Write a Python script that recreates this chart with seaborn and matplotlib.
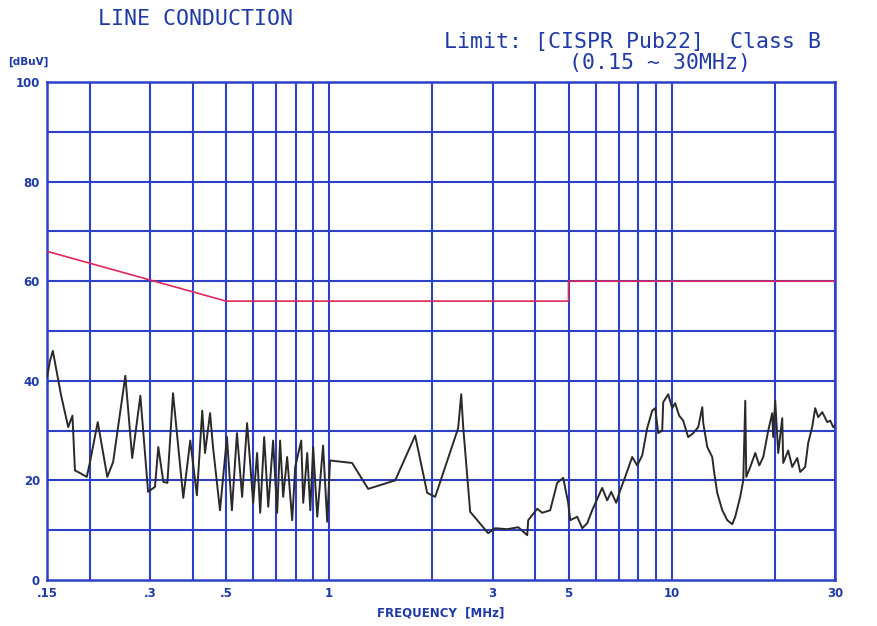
import numpy as np
import pandas as pd
import seaborn as sns
import matplotlib.pyplot as plt

freq_mhz = [0.150, 0.153, 0.156, 0.165, 0.173, 0.178, 0.181, 0.187, 0.196, 0.200,
            0.211, 0.225, 0.234, 0.254, 0.266, 0.281, 0.296, 0.310, 0.317, 0.328,
            0.337, 0.350, 0.375, 0.393, 0.411, 0.426, 0.434, 0.449, 0.458, 0.480,
            0.503, 0.520, 0.538, 0.557, 0.576, 0.600, 0.616, 0.629, 0.646, 0.664,
            0.686, 0.705, 0.719, 0.734, 0.754, 0.780, 0.796, 0.829, 0.840, 0.863,
            0.881, 0.898, 0.923, 0.960, 0.987, 1.006, 1.167, 1.300, 1.559, 1.783,
            1.933, 2.040, 2.381, 2.430, 2.463, 2.581, 2.913, 3.053, 3.311, 3.565,
            3.788, 3.813, 4.051, 4.190, 4.420, 4.633, 4.825, 4.989, 5.057, 5.301,
            5.483, 5.670, 5.863, 6.270, 6.484, 6.662, 6.890, 7.077, 7.319, 7.672,
            7.935, 8.206, 8.487, 8.777, 8.956, 9.139, 9.387, 9.452, 9.775, 10.04,
            10.24, 10.52, 10.81, 11.18, 11.57, 11.96, 12.29, 12.37, 12.71, 13.14,
            13.32, 13.59, 14.06, 14.54, 15.03, 15.34, 15.86, 16.19, 16.41, 16.52,
            16.97, 17.55, 18.03, 18.52, 19.15, 19.67, 19.80, 20.07, 20.48, 21.04,
            21.18, 21.90, 22.50, 23.27, 23.74, 24.55, 25.05, 25.73, 26.26, 26.80,
            27.54, 28.48, 29.06, 29.65, 30.0]
level_dbuv = [40.6, 44.0, 46.0, 37.0, 30.7, 33.0, 22.0, 21.5, 20.7, 23.5,
              31.7, 20.7, 23.7, 41.0, 24.5, 37.0, 17.7, 18.7, 26.7, 19.7,
              19.5, 37.5, 16.5, 28.0, 17.0, 34.0, 25.5, 33.5, 26.7, 14.0,
              28.7, 14.0, 29.5, 16.7, 31.5, 15.5, 25.5, 13.5, 28.7, 14.7,
              28.0, 13.5, 28.0, 16.7, 24.7, 12.0, 22.7, 28.0, 15.5, 25.5,
              14.0, 26.7, 12.7, 27.0, 11.7, 24.0, 23.5, 18.3, 20.0, 29.0,
              17.5, 16.7, 30.5, 37.3, 30.7, 13.7, 9.4, 10.4, 10.2, 10.6,
              9.0, 12.0, 14.3, 13.5, 14.0, 19.5, 20.5, 15.5, 12.0, 12.7,
              10.4, 11.4, 14.0, 18.5, 16.0, 17.7, 15.5, 18.0, 20.7, 24.7,
              23.0, 25.0, 30.5, 34.0, 34.5, 29.5, 30.0, 35.7, 37.3, 34.5,
              35.5, 33.0, 32.0, 28.7, 29.5, 30.7, 34.7, 31.5, 26.7, 24.7,
              21.5, 17.5, 14.0, 12.0, 11.2, 12.7, 16.7, 20.0, 36.0, 20.7,
              22.7, 25.5, 23.0, 24.7, 30.0, 33.5, 28.7, 36.0, 25.5, 32.5,
              23.5, 26.0, 22.7, 24.5, 21.7, 22.7, 27.5, 30.7, 34.5, 32.7,
              33.7, 31.7, 32.0, 30.7, 31.0]

# CISPR 22 class B quasi-peak limit
limit_freq = [0.15, 0.5, 5.0, 5.0, 30.0]
limit_db = [66, 56, 56, 60, 60]

grid_freqs = [0.2, 0.3, 0.4, 0.5, 0.6, 0.7, 0.8, 0.9, 1, 2, 3, 4, 5, 6, 7, 8, 9, 10, 20, 30]
label_freqs = {0.15: '.15', 0.3: '.3', 0.5: '.5', 1: '1', 3: '3', 5: '5', 10: '10', 30: '30'}

blue = '#2c40c8'
text_blue = '#1f3aa6'

sns.set_style('white')
plt.rcParams['font.family'] = ['DejaVu Sans']

fig = plt.figure(figsize=(8.77, 6.26), dpi=100)
ax = fig.add_axes([47 / 877, 46 / 626, 788 / 877, 498 / 626])

df = pd.DataFrame({'freq': freq_mhz, 'level': level_dbuv})
lim = pd.DataFrame({'freq': limit_freq, 'level': limit_db})

sns.lineplot(data=lim, x='freq', y='level', sort=False, estimator=None,
             color='#e0285c', linewidth=1.2, ax=ax, zorder=3)
sns.lineplot(data=df, x='freq', y='level', sort=False, estimator=None,
             color='#2a2a2a', linewidth=1.4, ax=ax, zorder=4)

ax.set_xscale('log')
ax.set_xlim(0.15, 30)
ax.set_ylim(0, 100)

# grid: every decade subdivision + every 10 dB
for f in grid_freqs:
    ax.axvline(f, color=blue, linewidth=1.5, zorder=1)
for v in range(10, 101, 10):
    ax.axhline(v, color=blue, linewidth=1.5, zorder=1)
for s in ax.spines.values():
    s.set_color(blue)
    s.set_linewidth(1.8)

ax.xaxis.set_minor_locator(plt.NullLocator())
ax.set_xticks(list(label_freqs.keys()))
ax.set_xticklabels(list(label_freqs.values()))
ax.set_yticks(range(0, 101, 20))
ax.tick_params(length=0, labelsize=8.5, labelcolor=text_blue, pad=5)
for t in ax.get_xticklabels() + ax.get_yticklabels():
    t.set_fontweight('bold')

ax.set_xlabel('FREQUENCY  [MHz]', fontsize=8.5, fontweight='bold', color=text_blue, labelpad=5)
ax.set_ylabel('')

title_kw = dict(family='DejaVu Sans Mono', fontsize=15.5, color=text_blue, va='center', ha='center')
fig.text(195 / 877, 1 - 19 / 626, 'LINE CONDUCTION', **title_kw)
fig.text(632 / 877, 1 - 42 / 626, 'Limit: [CISPR Pub22]  Class B', **title_kw)
fig.text(660 / 877, 1 - 63 / 626, '(0.15 ~ 30MHz)', **title_kw)
fig.text(8 / 877, 1 - 62 / 626, '[dBuV]', fontsize=7.5, fontweight='bold',
         color=text_blue, ha='left', va='center')

fig.savefig('out.png', dpi=100)
